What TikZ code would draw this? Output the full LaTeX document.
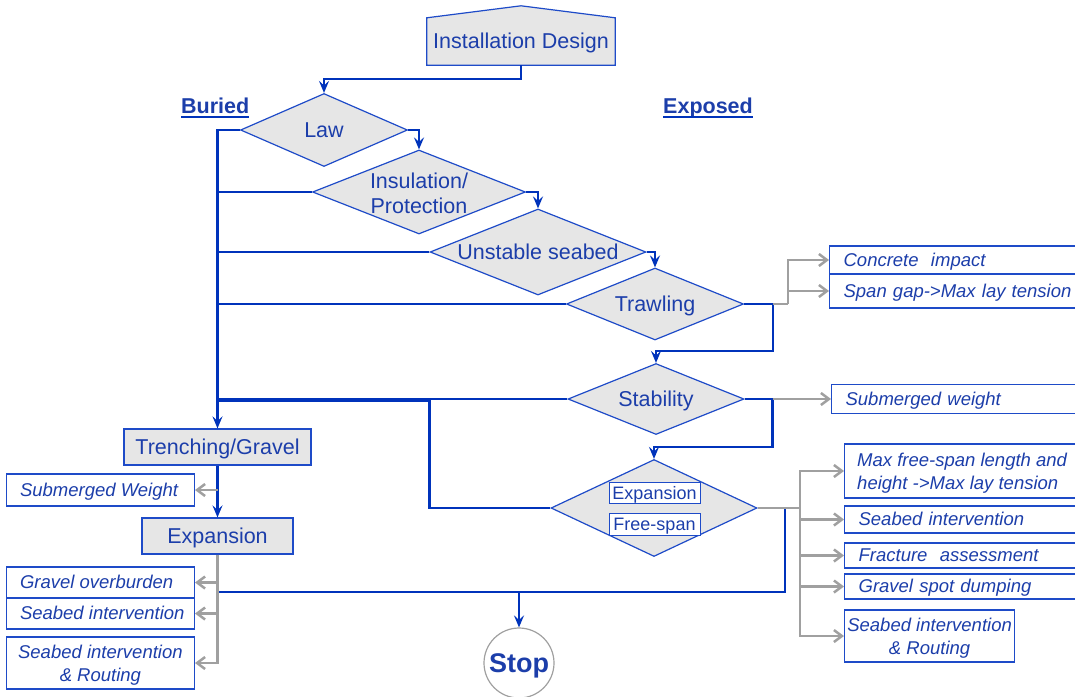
\documentclass[tikz,border=0pt]{standalone}
\usepackage{fontspec}
\setmainfont{Liberation Sans}
\usetikzlibrary{shapes.geometric,arrows.meta,calc,backgrounds}

\definecolor{lineblue}{RGB}{0,51,187}
\definecolor{txtblue}{RGB}{28,62,170}
\definecolor{edgeblue}{RGB}{30,75,200}
\definecolor{boxgray}{RGB}{230,230,230}
\definecolor{arrgray}{RGB}{160,160,160}

\tikzset{
  base/.style={text=txtblue, font=\fontsize{21.5}{25}\selectfont},
  oneline/.style={text height=19.5pt, text depth=4.6pt},
  decision/.style={diamond, draw=edgeblue, line width=1.2pt, fill=boxgray, inner sep=0pt},
  lbl/.style={base, align=center, inner sep=0pt},
  lbl1/.style={lbl, oneline},
  procbox/.style={rectangle, draw=edgeblue, line width=1.2pt, fill=boxgray, base, oneline, inner sep=0pt},
  notefont/.style={text=txtblue, font=\fontsize{18.5}{23}\selectfont\itshape},
  notebox/.style={rectangle, draw=edgeblue, line width=1.2pt, fill=white, inner sep=0pt},
  lefttext/.style={notefont, inner sep=0pt, anchor=west, xshift=14pt,
    text height=16.7pt, text depth=3.9pt},
  rnote/.style={notebox, notefont, text height=16.7pt, text depth=3.9pt,
    inner xsep=14pt, align=left, text width=#1, anchor=west},
  tag/.style={rectangle, draw=edgeblue, line width=1pt, fill=white, text=txtblue,
    font=\fontsize{18}{20}\selectfont, text height=16.3pt, text depth=3.8pt, inner sep=0pt},
  heading/.style={text=txtblue, font=\fontsize{21.5}{25}\selectfont\bfseries, inner sep=0pt},
  flow/.style={draw=lineblue, line width=2.5pt, -{Stealth[length=12pt,width=10pt,inset=4.5pt]}},
  link/.style={draw=lineblue, line width=2.5pt},
  aside/.style={draw=arrgray, line width=2.5pt, -{Straight Barb[length=8pt,width=12pt]}},
  asideline/.style={draw=arrgray, line width=2.5pt},
}

\begin{document}
\begin{tikzpicture}[x=1pt,y=-1pt]
\useasboundingbox (0,0) rectangle (1075,696);
\clip (0,0) rectangle (1075,696);

% start block with a peaked top
\node[base, oneline, minimum width=188pt, minimum height=47pt, inner sep=0pt] (inst) at (521,41.5) {Installation Design};
\begin{scope}[on background layer]
  \draw[edgeblue, line width=1.2pt, fill=boxgray]
    (inst.south west) -- (inst.north west) -- ($(inst.north)+(0,-12)$)
    -- (inst.north east) -- (inst.south east) -- cycle;
\end{scope}

% column headings
\node[heading, anchor=base west] (bur) at (181,113) {Buried};
\draw[lineblue, line width=2pt] ([yshift=-3.5pt]bur.base west) -- ([yshift=-3.5pt]bur.base east);
\node[heading, anchor=base west] (exq) at (663,113) {Exposed};
\draw[lineblue, line width=2pt] ([yshift=-3.5pt]exq.base west) -- ([yshift=-3.5pt]exq.base east);

% decision chain
\node[decision, minimum width=167pt, minimum height=73pt, label={[lbl1]center:Law}] (law) at (324,130) {};
\node[decision, minimum width=213pt, minimum height=84pt, label={[lbl, yshift=-1pt]center:Insulation/\\Protection}] (ins) at (419,192) {};
\node[decision, minimum width=216pt, minimum height=86pt, label={[lbl1]center:Unstable seabed}] (uns) at (538,252) {};
\node[decision, minimum width=177pt, minimum height=72pt, label={[lbl1]center:Trawling}] (trw) at (655,304) {};
\node[decision, minimum width=176pt, minimum height=71pt, label={[lbl1]center:Stability}] (stb) at (656,399) {};
\node[decision, minimum width=206pt, minimum height=97pt] (efs) at (654,508) {};
\node[tag, minimum width=91pt, minimum height=20pt] (tagx) at (654.5,493) {Expansion};
\node[tag, minimum width=91pt, minimum height=22pt] (tagf) at (654.5,524) {Free-span};

% buried branch blocks
\node[procbox, minimum width=187pt, minimum height=36pt] (trn) at (217.5,447) {Trenching/Gravel};
\node[procbox, minimum width=151pt, minimum height=36pt] (exb) at (217.5,536) {Expansion};

% buried side notes
\node[notebox, minimum width=188pt, minimum height=32pt, anchor=east,
      label={[lefttext]west:Submerged Weight}] (sw) at (195,490) {};
\node[notebox, minimum width=188pt, minimum height=31pt, anchor=east,
      label={[lefttext]west:Gravel overburden}] (go) at (195,582.5) {};
\node[notebox, minimum width=188pt, minimum height=31pt, anchor=east,
      label={[lefttext]west:Seabed intervention}] (si) at (195,613.5) {};
\node[notebox, minimum width=188pt, minimum height=52pt, anchor=east,
      label={[notefont, align=center, inner sep=0pt, yshift=-2.5pt]center:Seabed intervention\\\& Routing}] (sr) at (195,663) {};

% exposed side notes
\node[rnote=243pt, minimum height=28pt] (conc) at (829,260) {Concrete\ \ impact};
\node[rnote=243pt, minimum height=34pt] (span) at (829,291) {Span gap->Max lay tension};
\node[rnote=241pt, minimum height=29pt] (subw) at (831,399) {Submerged weight};
\node[notebox, minimum width=256pt, minimum height=54pt, anchor=west,
      label={[notefont, align=left, inner sep=0pt, anchor=west, xshift=13pt, yshift=-2.5pt]west:Max free-span length and\\height ->Max lay tension}] (mfs) at (844,471) {};
\node[rnote=228pt, minimum height=27pt] (sbi) at (844,519.5) {Seabed intervention};
\node[rnote=228pt, minimum height=25pt] (frc) at (844,555.5) {Fracture\ \ assessment};
\node[rnote=228pt, minimum height=25pt] (gsd) at (844,586.5) {Gravel spot dumping};
\node[notebox, minimum width=170pt, minimum height=52pt, anchor=west,
      label={[notefont, align=center, inner sep=0pt, yshift=-2.5pt]center:Seabed intervention\\\& Routing}] (sbr) at (844,636) {};

% end
\node[circle, draw=arrgray, line width=1.2pt, minimum size=70pt, inner sep=0pt, text=txtblue,
      font=\fontsize{27}{30}\selectfont\bfseries, text height=24.4pt, text depth=5.7pt] (stop) at (519,663) {Stop};

% main flow
\draw[flow] (inst.south) -- ++(0,14) -| (law.north);
\draw[flow] (law.east) -| (ins.north);
\draw[flow] (ins.east) -| (uns.north);
\draw[flow] (uns.east) -| (trw.north);
\draw[flow] (trw.east) -- ++(29,0) -- ++(0,47) -| (stb.north);
\draw[flow] (stb.east) -- ++(28,0) -- ++(0,48) -| (efs.north);

% buried trunk
\draw[flow] (law.west) -| (trn.north);
\draw[link] (ins.west) -- (ins.west -| trn.north);
\draw[link] (uns.west) -- (uns.west -| trn.north);
\draw[link] (trw.west) -- (trw.west -| trn.north);
\draw[link] (stb.west) -- (stb.west -| trn.north);
\draw[link] (efs.west) -- ++(-121,0) |- ($(stb.west -| trn.north)+(0,2)$);
\draw[flow] (trn.south) -- (exb.north);

% route to the end
\coordinate (busL) at (219,592);
\coordinate (busR) at (785,592);
\draw[link] (efs.east -| busR) -- (busR) -- (busL);
\draw[flow] (stop.north |- busL) -- (stop.north);

% buried side checks
\draw[aside] (trn.south |- sw.east) -- (sw.east);
\draw[aside] (exb.south) |- (sr.east);
\draw[aside] (exb.south |- go.east) -- (go.east);
\draw[aside] (exb.south |- si.east) -- (si.east);

% exposed side checks
\coordinate (tg) at (788,304);
\draw[asideline] ($(trw.east)+(29,0)$) -- (tg);
\draw[aside] (tg) |- (conc.west);
\draw[aside] (tg |- span.west) -- (span.west);

\draw[aside] ($(stb.east)+(28,0)$) -- (subw.west);

\coordinate (gx) at (800,508);
\draw[asideline] (efs.east) -- (gx);
\draw[aside] (gx) |- (mfs.west);
\draw[aside] (gx) |- (sbr.west);
\draw[aside] (gx |- sbi.west) -- (sbi.west);
\draw[aside] (gx |- frc.west) -- (frc.west);
\draw[aside] (gx |- gsd.west) -- (gsd.west);
\end{tikzpicture}
\end{document}
